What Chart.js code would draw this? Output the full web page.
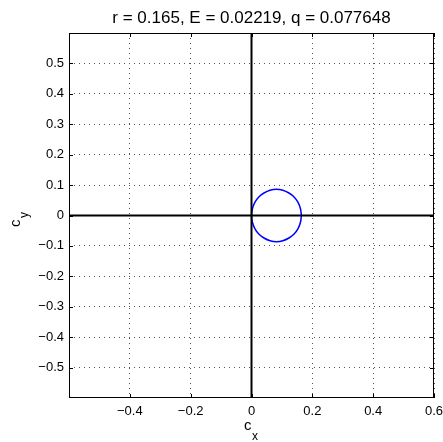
<!DOCTYPE html>
<html>
<head>
<meta charset="UTF-8">
<title>c_x / c_y</title>
<script src="https://cdn.jsdelivr.net/npm/chart.js"></script>
<style>
  body { margin: 0; background: #fff; }
  #wrap { width: 443px; height: 442px; }
</style>
</head>
<body>
<div id="wrap"><canvas id="chart"></canvas></div>
<script>
// values
const titleText = "r = 0.165, E = 0.02219, q = 0.077648";
const axisMin = -0.6;
const axisMax = 0.6;
const xTicks = [-0.6, -0.4, -0.2, 0, 0.2, 0.4, 0.6];
const yTicks = [-0.5, -0.4, -0.3, -0.2, -0.1, 0, 0.1, 0.2, 0.3, 0.4, 0.5];

// the blue loop, traced point by point
const loopX = [0.164, 0.161, 0.153, 0.140, 0.123, 0.103, 0.082, 0.061, 0.041, 0.024, 0.011, 0.003, 0.000,
               0.003, 0.011, 0.024, 0.041, 0.061, 0.082, 0.103, 0.123, 0.140, 0.153, 0.161, 0.164];
const loopY = [0.000, 0.022, 0.043, 0.061, 0.074, 0.083, 0.086, 0.083, 0.074, 0.061, 0.043, 0.022, 0.000,
               -0.022, -0.043, -0.061, -0.074, -0.083, -0.086, -0.083, -0.074, -0.061, -0.043, -0.022, 0.000];

// the two black axis lines through the origin
const hAxisX = [-0.6, 0.6], hAxisY = [0, 0];
const vAxisX = [0, 0],      vAxisY = [-0.6, 0.6];

const font = "'Liberation Sans', Arial, Helvetica, sans-serif";

function pts(xs, ys) { return xs.map((x, i) => ({ x: x, y: ys[i] })); }
function fmt(v) {
  const s = String(Math.round(v * 10) / 10);
  return s.replace('-', '\u2212');
}
function noPad(s) { s.paddingLeft = 0; s.paddingRight = 0; s.paddingTop = 0; s.paddingBottom = 0; }

const framePlugin = {
  id: 'frame',
  afterDraw(chart) {
    const ctx = chart.ctx, a = chart.chartArea;
    const xs = chart.scales.x, ys = chart.scales.y;
    ctx.save();
    ctx.strokeStyle = '#000';
    ctx.lineWidth = 1;
    ctx.strokeRect(a.left + 0.5, a.top + 0.5, a.right - a.left - 1, a.bottom - a.top - 1);
    // inward tick marks on all four sides
    ctx.beginPath();
    xTicks.forEach(v => {
      const px = Math.round(xs.getPixelForValue(v)) + 0.5;
      ctx.moveTo(px, a.bottom); ctx.lineTo(px, a.bottom - 4);
      ctx.moveTo(px, a.top); ctx.lineTo(px, a.top + 4);
    });
    yTicks.forEach(v => {
      const py = Math.round(ys.getPixelForValue(v)) + 0.5;
      ctx.moveTo(a.left, py); ctx.lineTo(a.left + 4, py);
      ctx.moveTo(a.right, py); ctx.lineTo(a.right - 4, py);
    });
    ctx.stroke();

    ctx.fillStyle = '#000';
    // title
    ctx.font = '17px ' + font;
    ctx.textAlign = 'center';
    ctx.textBaseline = 'alphabetic';
    ctx.fillText(titleText, (a.left + a.right) / 2, 23);

    // x label: c with subscript x
    const cx = (a.left + a.right) / 2;
    ctx.textAlign = 'left';
    ctx.font = '15px ' + font;
    ctx.fillText('c', cx - 7.5, 430);
    ctx.font = '12px ' + font;
    ctx.fillText('x', cx + 0.5, 440);

    // y label: c with subscript y, rotated
    ctx.translate(20, 227);
    ctx.rotate(-Math.PI / 2);
    ctx.font = '15px ' + font;
    ctx.fillText('c', 0, 0);
    ctx.font = '12px ' + font;
    ctx.fillText('y', 9, 8);
    ctx.restore();
  }
};

new Chart(document.getElementById('chart'), {
  type: 'scatter',
  data: {
    datasets: [
      { data: pts(hAxisX, hAxisY), showLine: true, borderColor: '#000', borderWidth: 2, pointRadius: 0 },
      { data: pts(vAxisX, vAxisY), showLine: true, borderColor: '#000', borderWidth: 2, pointRadius: 0 },
      { data: pts(loopX, loopY), showLine: true, borderColor: '#0000ff', borderWidth: 1.5,
        pointRadius: 0, tension: 0.35 }
    ]
  },
  options: {
    responsive: true,
    maintainAspectRatio: false,
    animation: false,
    layout: { padding: { left: 0, right: 9, top: 33, bottom: 0 } },
    plugins: { legend: { display: false }, tooltip: { enabled: false } },
    scales: {
      x: {
        type: 'linear', min: axisMin, max: axisMax,
        afterBuildTicks: s => { s.ticks = xTicks.map(v => ({ value: v })); },
        afterFit: s => { s.height = 44; noPad(s); },
        ticks: {
          padding: 6, color: '#000', font: { family: font, size: 13 },
          maxRotation: 0, autoSkip: false,
          callback: v => (v <= axisMin + 1e-9 ? '' : fmt(v))
        },
        grid: { color: '#555', drawTicks: false, lineWidth: 1 },
        border: { display: false, dash: [1, 4] }
      },
      y: {
        type: 'linear', min: axisMin, max: axisMax,
        afterBuildTicks: s => { s.ticks = yTicks.map(v => ({ value: v })); },
        afterFit: s => { s.width = 69; noPad(s); },
        ticks: {
          padding: 5, color: '#000', font: { family: font, size: 13 },
          autoSkip: false,
          callback: v => fmt(v)
        },
        grid: { color: '#555', drawTicks: false, lineWidth: 1 },
        border: { display: false, dash: [1, 4] }
      }
    }
  },
  plugins: [framePlugin]
});
</script>
</body>
</html>
